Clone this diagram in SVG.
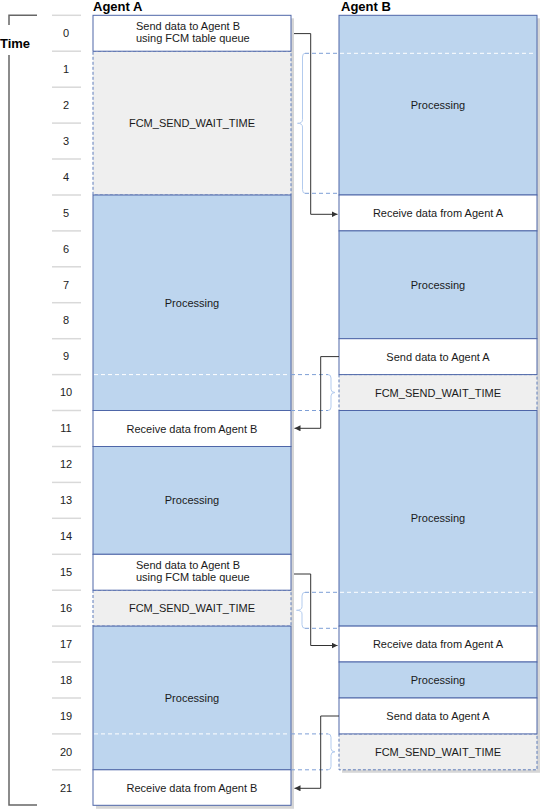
<svg xmlns="http://www.w3.org/2000/svg" width="541" height="810" viewBox="0 0 541 810">
<defs>
<style>
.bl{fill:#BDD5EE;stroke:#4E66A8;stroke-width:1}
.wh{fill:#FFFFFF;stroke:#4E66A8;stroke-width:1}
.gr{fill:#EFEFEF;stroke:#5F7DBB;stroke-width:1;stroke-dasharray:3 2}
.sh{fill:#D6D6D6}
.t{font-family:"Liberation Sans",Arial,sans-serif;font-size:11px;fill:#1a1a1a;text-anchor:middle}
.tl{font-family:"Liberation Sans",Arial,sans-serif;font-size:11px;fill:#1a1a1a}
.n{font-family:"Liberation Sans",Arial,sans-serif;font-size:11px;fill:#222;text-anchor:middle}
.h{font-family:"Liberation Sans",Arial,sans-serif;font-size:13px;font-weight:bold;fill:#000}
.tick{stroke:#D9D9D9;stroke-width:1.5}
.wd{stroke:#FFFFFF;stroke-width:1;stroke-dasharray:4 3;fill:none}
.bd{stroke:#7E9FD6;stroke-width:1;stroke-dasharray:4 3;fill:none}
.br{stroke:#B3CBEE;stroke-width:1;fill:none}
.c{stroke:#333333;stroke-width:1;fill:none;marker-end:url(#ah)}
.ax{stroke:#666666;stroke-width:1.5;fill:none}
</style>
<marker id="ah" markerUnits="userSpaceOnUse" markerWidth="7" markerHeight="6" refX="6" refY="3" orient="auto">
<path d="M0,0 L6,3 L0,6 z" fill="#333333"/>
</marker>
</defs>

<g id="time-axis">
<path class="ax" d="M37,15.3 H9 V25 M9,55 V805 H37"/>
<text class="h" x="15" y="48" text-anchor="middle">Time</text>
<g id="ticks">
<line class="tick" x1="52" x2="81" y1="15.3" y2="15.3"/>
<line class="tick" x1="52" x2="81" y1="51.2" y2="51.2"/>
<line class="tick" x1="52" x2="81" y1="87.2" y2="87.2"/>
<line class="tick" x1="52" x2="81" y1="123.1" y2="123.1"/>
<line class="tick" x1="52" x2="81" y1="159" y2="159"/>
<line class="tick" x1="52" x2="81" y1="195" y2="195"/>
<line class="tick" x1="52" x2="81" y1="230.9" y2="230.9"/>
<line class="tick" x1="52" x2="81" y1="266.8" y2="266.8"/>
<line class="tick" x1="52" x2="81" y1="302.7" y2="302.7"/>
<line class="tick" x1="52" x2="81" y1="338.7" y2="338.7"/>
<line class="tick" x1="52" x2="81" y1="374.6" y2="374.6"/>
<line class="tick" x1="52" x2="81" y1="410.5" y2="410.5"/>
<line class="tick" x1="52" x2="81" y1="446.5" y2="446.5"/>
<line class="tick" x1="52" x2="81" y1="482.4" y2="482.4"/>
<line class="tick" x1="52" x2="81" y1="518.3" y2="518.3"/>
<line class="tick" x1="52" x2="81" y1="554.3" y2="554.3"/>
<line class="tick" x1="52" x2="81" y1="590.2" y2="590.2"/>
<line class="tick" x1="52" x2="81" y1="626.1" y2="626.1"/>
<line class="tick" x1="52" x2="81" y1="662" y2="662"/>
<line class="tick" x1="52" x2="81" y1="698" y2="698"/>
<line class="tick" x1="52" x2="81" y1="733.9" y2="733.9"/>
<line class="tick" x1="52" x2="81" y1="769.8" y2="769.8"/>
</g>
<g id="numbers">
<text class="n" x="66" y="37">0</text>
<text class="n" x="66" y="72.9">1</text>
<text class="n" x="66" y="108.9">2</text>
<text class="n" x="66" y="144.8">3</text>
<text class="n" x="66" y="180.7">4</text>
<text class="n" x="66" y="216.7">5</text>
<text class="n" x="66" y="252.6">6</text>
<text class="n" x="66" y="288.5">7</text>
<text class="n" x="66" y="324.4">8</text>
<text class="n" x="66" y="360.4">9</text>
<text class="n" x="66" y="396.3">10</text>
<text class="n" x="66" y="432.2">11</text>
<text class="n" x="66" y="468.2">12</text>
<text class="n" x="66" y="504.1">13</text>
<text class="n" x="66" y="540">14</text>
<text class="n" x="66" y="576">15</text>
<text class="n" x="66" y="611.9">16</text>
<text class="n" x="66" y="647.8">17</text>
<text class="n" x="66" y="683.7">18</text>
<text class="n" x="66" y="719.7">19</text>
<text class="n" x="66" y="755.6">20</text>
<text class="n" x="66" y="791.5">21</text>
</g>
</g>

<g id="shadows">
<rect class="sh" x="96" y="18.3" width="198" height="790.5"/>
<rect class="sh" x="342" y="18.3" width="198" height="754.5"/>
</g>

<g id="agent-a">
<text class="h" x="93" y="10.5">Agent A</text>
<g id="a-wait-1"><rect class="gr" x="93" y="51.2" width="198" height="143.8"/><text class="t" x="192" y="127.1">FCM_SEND_WAIT_TIME</text></g>
<g id="a-wait-2"><rect class="gr" x="93" y="590.2" width="198" height="35.9"/><text class="t" x="192" y="612.2">FCM_SEND_WAIT_TIME</text></g>
<g id="a-send-1"><rect class="wh" x="93" y="15.3" width="198" height="35.9"/><text class="tl" x="136" y="29.6">Send data to Agent B</text><text class="tl" x="136" y="42.2">using FCM table queue</text></g>
<g id="a-proc-1"><rect class="bl" x="93" y="195" width="198" height="215.5"/><text class="t" x="192" y="306.8">Processing</text></g>
<g id="a-recv-1"><rect class="wh" x="93" y="410.5" width="198" height="36"/><text class="t" x="192" y="432.5">Receive data from Agent B</text></g>
<g id="a-proc-2"><rect class="bl" x="93" y="446.5" width="198" height="107.8"/><text class="t" x="192" y="504.4">Processing</text></g>
<g id="a-send-2"><rect class="wh" x="93" y="554.3" width="198" height="35.9"/><text class="tl" x="136" y="568.5">Send data to Agent B</text><text class="tl" x="136" y="581.1">using FCM table queue</text></g>
<g id="a-proc-3"><rect class="bl" x="93" y="626.1" width="198" height="143.7"/><text class="t" x="192" y="702">Processing</text></g>
<g id="a-recv-2"><rect class="wh" x="93" y="769.8" width="198" height="35.5"/><text class="t" x="192" y="791.8">Receive data from Agent B</text></g>
</g>

<g id="agent-b">
<text class="h" x="341" y="10.5">Agent B</text>
<g id="b-wait-1"><rect class="gr" x="339" y="374.6" width="198" height="35.9"/><text class="t" x="438" y="396.6">FCM_SEND_WAIT_TIME</text></g>
<g id="b-wait-2"><rect class="gr" x="339" y="733.9" width="198" height="35.9"/><text class="t" x="438" y="755.9">FCM_SEND_WAIT_TIME</text></g>
<g id="b-proc-1"><rect class="bl" x="339" y="15.3" width="198" height="179.7"/><text class="t" x="438" y="109.2">Processing</text></g>
<g id="b-recv-1"><rect class="wh" x="339" y="195" width="198" height="35.9"/><text class="t" x="438" y="217">Receive data from Agent A</text></g>
<g id="b-proc-2"><rect class="bl" x="339" y="230.9" width="198" height="107.8"/><text class="t" x="438" y="288.8">Processing</text></g>
<g id="b-send-1"><rect class="wh" x="339" y="338.7" width="198" height="35.9"/><text class="t" x="438" y="360.7">Send data to Agent A</text></g>
<g id="b-proc-3"><rect class="bl" x="339" y="410.5" width="198" height="215.6"/><text class="t" x="438" y="522.3">Processing</text></g>
<g id="b-recv-2"><rect class="wh" x="339" y="626.1" width="198" height="35.9"/><text class="t" x="438" y="648.1">Receive data from Agent A</text></g>
<g id="b-proc-4"><rect class="bl" x="339" y="662" width="198" height="36"/><text class="t" x="438" y="684">Processing</text></g>
<g id="b-send-2"><rect class="wh" x="339" y="698" width="198" height="35.9"/><text class="t" x="438" y="720">Send data to Agent A</text></g>
</g>

<g id="wait-markers">
<line class="bd" x1="305" y1="53.3" x2="339" y2="53.3"/>
<line class="wd" x1="340" y1="53.3" x2="536" y2="53.3"/>
<line class="bd" x1="305" y1="193.3" x2="339" y2="193.3"/>
<path class="br" d="M305,53.3 Q302.5,53.3 302.5,57 V119.6 Q302.5,123.3 297.5,123.3 Q302.5,123.3 302.5,127 V189.6 Q302.5,193.3 305,193.3"/>

<line class="wd" x1="94" y1="374.6" x2="290" y2="374.6"/>
<line class="bd" x1="291" y1="374.6" x2="328" y2="374.6"/>
<line class="bd" x1="291" y1="410.5" x2="328" y2="410.5"/>
<path class="br" d="M328,374.6 Q331,374.6 331,378 V389.2 Q331,392.5 335,392.5 Q331,392.5 331,395.9 V407.1 Q331,410.5 328,410.5"/>

<line class="bd" x1="305" y1="592.3" x2="339" y2="592.3"/>
<line class="wd" x1="340" y1="592.3" x2="536" y2="592.3"/>
<line class="bd" x1="305" y1="628.3" x2="339" y2="628.3"/>
<path class="br" d="M305,592.3 Q302,592.3 302,596 V606.6 Q302,610.3 296.5,610.3 Q302,610.3 302,614 V624.6 Q302,628.3 305,628.3"/>

<line class="wd" x1="94" y1="733.9" x2="290" y2="733.9"/>
<line class="bd" x1="291" y1="733.9" x2="328" y2="733.9"/>
<line class="bd" x1="291" y1="769.8" x2="328" y2="769.8"/>
<path class="br" d="M328,733.9 Q331,733.9 331,737.3 V748.5 Q331,751.8 335,751.8 Q331,751.8 331,755.2 V766.4 Q331,769.8 328,769.8"/>
</g>

<g id="connectors">
<path class="c" d="M294,33.6 H310.7 V214.3 H337.5"/>
<path class="c" d="M339,356.6 H320.7 V428.3 H294.5"/>
<path class="c" d="M294,574 H310.7 V645.5 H337.5"/>
<path class="c" d="M339,716 H320.7 V788.3 H294.5"/>
</g>
</svg>
